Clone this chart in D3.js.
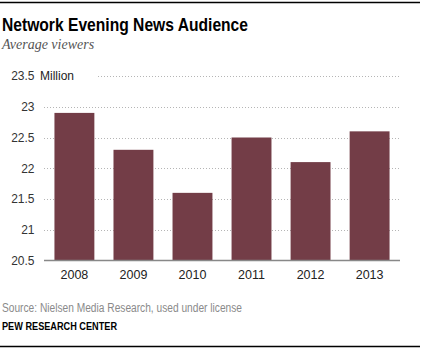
<!DOCTYPE html>
<html>
<head>
<meta charset="utf-8">
<script src="https://cdn.jsdelivr.net/npm/d3@7"></script>
<style>
  body { margin: 0; background: #fff; }
  svg { display: block; }
</style>
</head>
<body>
<div id="chart"></div>
<script>
const years = ['2008', '2009', '2010', '2011', '2012', '2013'];
const viewers = [22.9, 22.3, 21.6, 22.5, 22.1, 22.6];
const yTicks = [20.5, 21, 21.5, 22, 22.5, 23, 23.5];

const width = 422;
const height = 349;
const plot = { left: 44, right: 400, top: 76, bottom: 260.5 };
const sans = '"Liberation Sans", Arial, sans-serif';

const svg = d3.select('#chart').append('svg')
  .attr('width', width)
  .attr('height', height);

// rules top and bottom
svg.append('line')
  .attr('x1', 0).attr('x2', 420).attr('y1', 2.5).attr('y2', 2.5)
  .attr('stroke', '#000').attr('stroke-width', 1.5);
svg.append('line')
  .attr('x1', 0).attr('x2', 420).attr('y1', 346.5).attr('y2', 346.5)
  .attr('stroke', '#000').attr('stroke-width', 1.5);

// condensed look via textLength
svg.append('text')
  .attr('x', 2).attr('y', 30.5)
  .attr('font-family', sans)
  .attr('font-weight', 'bold')
  .attr('font-size', 19)
  .attr('textLength', 246)
  .attr('lengthAdjust', 'spacingAndGlyphs')
  .attr('fill', '#000')
  .text('Network Evening News Audience');

svg.append('text')
  .attr('x', 2).attr('y', 48.5)
  .attr('font-family', '"Liberation Serif", Georgia, serif')
  .attr('font-style', 'italic')
  .attr('font-size', 14)
  .attr('fill', '#555')
  .text('Average viewers');

const x = d3.scaleBand()
  .domain(years)
  .range([plot.left, plot.right])
  .paddingInner(0.324)
  .paddingOuter(0.177);

const y = d3.scaleLinear()
  .domain([20.5, 23.5])
  .range([plot.bottom, plot.top]);

// dotted gridlines
svg.append('g')
  .selectAll('line')
  .data(yTicks.filter(d => d > 20.5))
  .join('line')
  .attr('x1', plot.left).attr('x2', plot.right)
  .attr('y1', d => Math.round(y(d)) + 0.5)
  .attr('y2', d => Math.round(y(d)) + 0.5)
  .attr('stroke', '#b5b5b5')
  .attr('stroke-width', 1)
  .attr('stroke-dasharray', '1 2');

// keep the unit label clear of its gridline
svg.append('rect')
  .attr('x', plot.left).attr('y', y(23.5) - 7)
  .attr('width', 52).attr('height', 14)
  .attr('fill', '#fff');

const yAxis = d3.axisLeft(y)
  .tickValues(yTicks)
  .tickSize(0)
  .tickPadding(0)
  .tickFormat(d3.format('~g'));

const yAxisG = svg.append('g')
  .attr('transform', 'translate(34.5,0)')
  .call(yAxis);
yAxisG.select('.domain').remove();
yAxisG.selectAll('text')
  .attr('font-family', sans)
  .attr('font-size', 12)
  .attr('fill', '#333');

svg.append('text')
  .attr('x', 40).attr('y', y(23.5))
  .attr('dy', '0.32em')
  .attr('font-family', sans)
  .attr('font-size', 12)
  .attr('fill', '#222')
  .text('Million');

svg.append('g')
  .selectAll('rect')
  .data(years.map((yr, i) => ({ year: yr, value: viewers[i] })))
  .join('rect')
  .attr('x', d => x(d.year))
  .attr('y', d => y(d.value))
  .attr('width', x.bandwidth())
  .attr('height', d => y(20.5) - y(d.value))
  .attr('fill', '#733d47');

const xAxis = d3.axisBottom(x).tickSize(0).tickPadding(0);
const xAxisG = svg.append('g')
  .attr('transform', `translate(0,${plot.bottom})`)
  .call(xAxis);
xAxisG.select('.domain')
  .attr('stroke', '#888')
  .attr('stroke-width', 1.3)
  .attr('d', `M${plot.left},0H${plot.right}`);
xAxisG.selectAll('text')
  .attr('y', 18.5)
  .attr('dy', 0)
  .attr('font-family', sans)
  .attr('font-size', 12.5)
  .attr('fill', '#222');

svg.append('text')
  .attr('x', 2).attr('y', 311.5)
  .attr('font-family', sans)
  .attr('font-size', 12)
  .attr('textLength', 240)
  .attr('lengthAdjust', 'spacingAndGlyphs')
  .attr('fill', '#8a8a8a')
  .text('Source: Nielsen Media Research, used under license');

svg.append('text')
  .attr('x', 2).attr('y', 329.5)
  .attr('font-family', sans)
  .attr('font-weight', 'bold')
  .attr('font-size', 10)
  .attr('textLength', 115)
  .attr('lengthAdjust', 'spacingAndGlyphs')
  .attr('fill', '#000')
  .text('PEW RESEARCH CENTER');
</script>
</body>
</html>
